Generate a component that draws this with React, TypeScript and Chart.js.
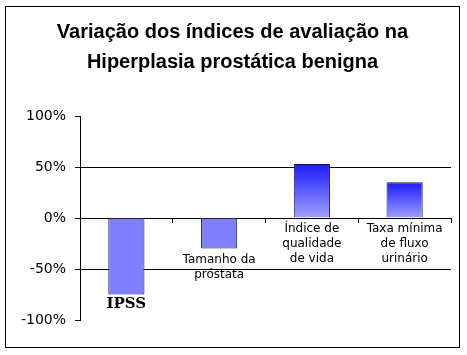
import React, { useEffect, useRef } from 'react';
import { Chart, registerables } from 'chart.js';

Chart.register(...registerables);

const titleLines = ['Variação dos índices de avaliação na', 'Hiperplasia prostática benigna'];
const categories = [
  ['IPSS'],
  ['Tamanho da', 'próstata'],
  ['Índice de', 'qualidade', 'de vida'],
  ['Taxa mínima', 'de fluxo', 'urinário'],
];
const values = [-75, -30, 53, 35];
const yMin = -100;
const yMax = 100;
const yStep = 50;

// styles (kept apart from data)
const barFills = ['solid', 'solid', 'gradient', 'gradient'];
const labelFonts = [
  'bold 15px "DejaVu Serif"',
  '12px "DejaVu Sans"',
  '12px "DejaVu Sans"',
  '12px "DejaVu Sans"',
];

const framePlugin = {
  id: 'frame',
  beforeDraw(chart: any) {
    const c = chart.ctx;
    c.save();
    c.fillStyle = '#fff';
    c.fillRect(0, 0, chart.width, chart.height);
    c.restore();
  },
  afterDraw(chart: any) {
    const c = chart.ctx;
    c.save();
    c.strokeStyle = '#000';
    c.lineWidth = 1;
    c.strokeRect(5.5, 6.5, 454, 341);
    c.restore();
  },
};

const catLabelPlugin = {
  id: 'catLabels',
  afterDatasetsDraw(chart: any) {
    const c = chart.ctx;
    const xs = chart.scales.x;
    const ys = chart.scales.y;
    const zero = ys.getPixelForValue(0);
    c.save();
    c.fillStyle = '#000';
    c.textAlign = 'center';
    c.textBaseline = 'middle';
    categories.forEach((lines, i) => {
      const x = xs.getPixelForValue(i);
      const v = values[i];
      const base = v < 0 ? ys.getPixelForValue(v) : zero;
      c.font = labelFonts[i];
      const gap = i === 0 ? 10 : 11;
      lines.forEach((t, j) => {
        c.fillText(t, x, base + gap + j * 15);
      });
    });
    c.restore();
  },
};

export default function App() {
  const ref = useRef<HTMLCanvasElement>(null);
  useEffect(() => {
    if (!ref.current) return;
    const chart = new Chart(ref.current, {
      type: 'bar',
      data: {
        labels: categories.map((l) => l.join(' ')),
        datasets: [
          {
            data: values,
            backgroundColor: (ctx: any) => {
              const i = ctx.dataIndex;
              if (ctx.type !== 'data' || barFills[i] !== 'gradient') return '#8080ff';
              const ys = ctx.chart.scales.y;
              if (!ys) return '#6060ff';
              const top = ys.getPixelForValue(values[i]);
              const base = ys.getPixelForValue(0);
              const g = ctx.chart.ctx.createLinearGradient(0, top, 0, base);
              g.addColorStop(0, '#1a1aff');
              g.addColorStop(1, '#a0a0ff');
              return g;
            },
            borderColor: '#1a1a50',
            borderWidth: 1,
            categoryPercentage: 1,
            barPercentage: 0.39,
          },
        ],
      },
      options: {
        responsive: false,
        animation: false,
        layout: { padding: { left: 14, right: 16, top: 0, bottom: 35 } },
        plugins: {
          legend: { display: false },
          tooltip: { enabled: false },
          title: {
            display: true,
            text: titleLines,
            color: '#000',
            font: { family: '"Liberation Sans", Arial, sans-serif', size: 20, weight: 'bold', lineHeight: '30px' },
            padding: { top: 17, bottom: 39 },
          },
        },
        scales: {
          x: {
            position: { y: 0 } as any,
            grid: {
              offset: true,
              drawOnChartArea: false,
              drawTicks: true,
              tickLength: 4,
              color: '#000',
            },
            border: { display: true, color: '#000', width: 1 },
            ticks: { display: false },
          },
          y: {
            min: yMin,
            max: yMax,
            afterFit: (s: any) => {
              s.width = 66;
            },
            ticks: {
              stepSize: yStep,
              padding: 9,
              color: '#000',
              font: { family: '"DejaVu Sans", sans-serif', size: 14 },
              callback: (v: any) => v + '%',
            },
            grid: {
              color: (ctx: any) =>
                ctx.tick && Math.abs(ctx.tick.value) === 50 ? '#000' : 'rgba(0,0,0,0)',
              tickColor: '#000',
              tickLength: 5,
              lineWidth: 1,
            },
            border: { display: true, color: '#000', width: 1 },
          },
        },
      },
      plugins: [framePlugin, catLabelPlugin],
    });
    return () => chart.destroy();
  }, []);
  return (
    <div style={{ position: 'absolute', left: 0, top: 0, width: 467, height: 355 }}>
      <canvas ref={ref} width={467} height={355} />
    </div>
  );
}
